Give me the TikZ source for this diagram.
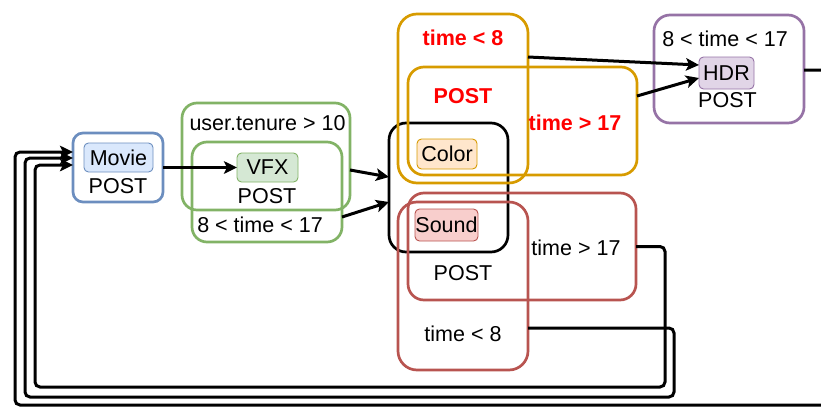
\documentclass[tikz,border=0pt]{standalone}
\usepackage{fontspec}
\setmainfont{Liberation Sans}
\usetikzlibrary{arrows.meta}
\definecolor{bstroke}{HTML}{6C8EBF}\definecolor{bfill}{HTML}{DAE8FC}
\definecolor{gstroke}{HTML}{82B366}\definecolor{gfill}{HTML}{D5E8D4}
\definecolor{ostroke}{HTML}{D79B00}\definecolor{ofill}{HTML}{FFE6CC}
\definecolor{rstroke}{HTML}{B85450}\definecolor{rfill}{HTML}{F8CECC}
\definecolor{pstroke}{HTML}{9673A6}\definecolor{pfill}{HTML}{E1D5E7}
\definecolor{redtxt}{HTML}{FF0000}
\tikzset{
  groupbox/.style={draw, rectangle, line width=2.7pt, inner sep=0pt, outer sep=0pt},
  tagbox/.style={draw, rectangle, line width=0.9pt, inner sep=0pt, outer sep=0pt, rounded corners=4.5pt, font=\fontsize{21.5}{25}\selectfont},
  lbl/.style={inner sep=0pt, font=\fontsize{21.5}{25}\selectfont},
  blbl/.style={inner sep=0pt, font=\bfseries\fontsize{21.5}{25}\selectfont, text=redtxt},
  conn/.style={line width=3pt, -{Stealth[length=13pt,width=12.5pt,inset=3pt]}, rounded corners=5pt},
}
\begin{document}
\begin{tikzpicture}[x=1pt,y=-1pt]
\useasboundingbox (0,0) rectangle (821,407);
% group boxes
\node[groupbox, draw=bstroke, rounded corners=10pt, minimum width=90pt, minimum height=69pt] (moviebox) at (118,167.5) {};
\node[groupbox, draw=gstroke, rounded corners=15pt, minimum width=168pt, minimum height=107pt] (gout) at (266,156.5) {};
\node[groupbox, draw=gstroke, rounded corners=15pt, minimum width=150pt, minimum height=100pt] (gin) at (267,192) {};
\node[groupbox, draw=black, rounded corners=17pt, minimum width=119pt, minimum height=129pt] (blackbox) at (448.5,187.5) {};
\node[groupbox, draw=ostroke, rounded corners=19pt, minimum width=130pt, minimum height=169pt] (oout) at (463,98.5) {};
\node[groupbox, draw=ostroke, rounded corners=16pt, minimum width=229pt, minimum height=108pt] (oin) at (522.5,121) {};
\node[groupbox, draw=rstroke, rounded corners=16pt, minimum width=228pt, minimum height=107pt] (rout) at (522,246.5) {};
\node[groupbox, draw=rstroke, rounded corners=19pt, minimum width=130pt, minimum height=168pt] (rin) at (463,286) {};
\node[groupbox, draw=pstroke, rounded corners=16pt, minimum width=150pt, minimum height=108pt] (purple) at (729,69) {};
% tag boxes
\node[tagbox, draw=bstroke, fill=bfill, minimum width=69pt, minimum height=29pt] (movie) at (118.5,157.5) {Movie};
\node[tagbox, draw=gstroke, fill=gfill, minimum width=61pt, minimum height=29pt] (vfx) at (267.5,167.5) {VFX};
\node[tagbox, draw=ostroke, fill=ofill, minimum width=60pt, minimum height=30pt] (color) at (447,154) {Color};
\node[tagbox, draw=rstroke, fill=rfill, minimum width=63pt, minimum height=32pt] (sound) at (446.5,225) {Sound};
\node[tagbox, draw=pstroke, fill=pfill, minimum width=55pt, minimum height=32pt] (hdr) at (726.5,73) {HDR};
% labels
\node[lbl] (moviepost) at (118,186) {POST};
\node[lbl] (tenure) at (267.5,123) {user.tenure > 10};
\node[lbl] (vfxpost) at (267,196) {POST};
\node[lbl] (vfxtime) at (260,225) {8 < time < 17};
\node[blbl] (otlt) at (463,37.5) {time < 8};
\node[blbl] (opost) at (463,96) {POST};
\node[blbl] (otgt) at (575,123) {time > 17};
\node[lbl] (rtgt) at (576,247.5) {time > 17};
\node[lbl] (rpost) at (463,273) {POST};
\node[lbl] (rtlt) at (463,334) {time < 8};
\node[lbl] (ptime) at (725,38.5) {8 < time < 17};
\node[lbl] (hdrpost) at (727.5,100.5) {POST};
% connectors
\draw[conn] (moviebox.east) -- (vfx.west);
\draw[conn] ([yshift=-13.5pt]gout.east) -- ([yshift=10.5pt]blackbox.west);
\draw[conn] ([yshift=-25pt]gin.east) -- ([yshift=-14.5pt]blackbox.west);
\draw[conn] ([yshift=41.5pt]oout.east) -- ([yshift=8pt]hdr.west);
\draw[conn] ([yshift=25pt]oin.east) -- ([yshift=-5pt]hdr.west);
\draw[conn] (rout.east) -- (665,246.5) |- (35,387) |- ([yshift=2.5pt]moviebox.west);
\draw[conn] ([yshift=-42pt]rin.east) -- (674,328) |- (25,397) |- ([yshift=9.5pt]moviebox.west);
\draw[conn] ([yshift=-1pt]purple.east) -- (840,70) |- (15,405) |- ([yshift=15.5pt]moviebox.west);
\end{tikzpicture}
\end{document}
